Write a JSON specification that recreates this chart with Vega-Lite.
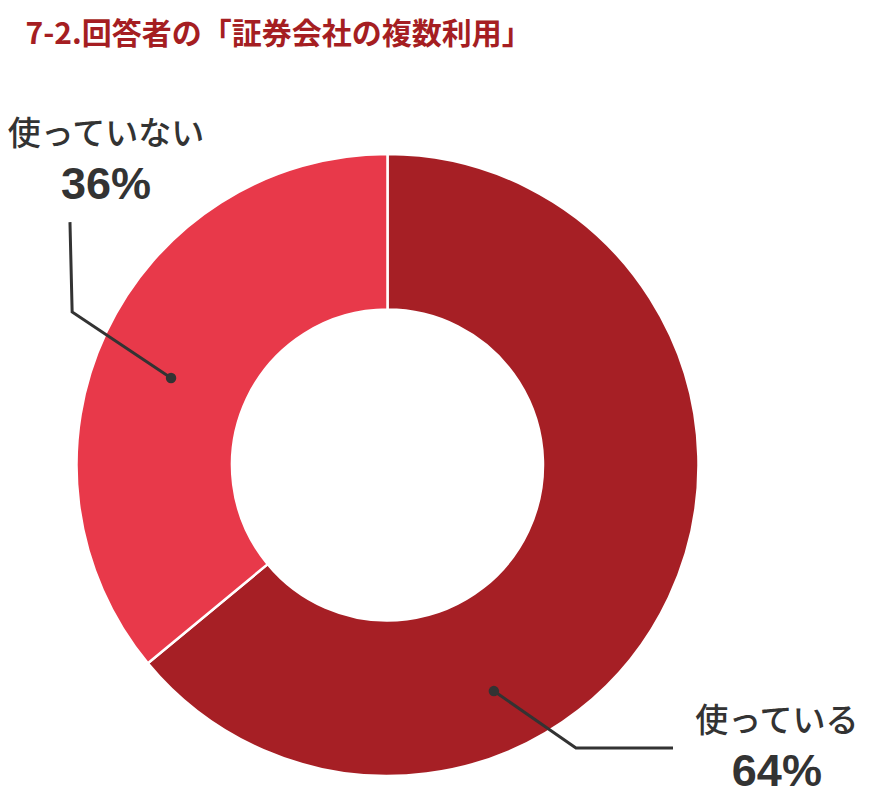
{
  "$schema": "https://vega.github.io/schema/vega-lite/v6.json",
  "width": 622,
  "height": 622,
  "autosize": {"type": "none"},
  "padding": {"left": 76.5, "top": 154, "right": 187.5, "bottom": 26},
  "background": "white",
  "config": {"view": {"stroke": null}},
  "title": {
    "text": "7-2.回答者の「証券会社の複数利用」",
    "anchor": "start",
    "frame": "group",
    "font": "Noto Sans CJK JP",
    "fontSize": 30,
    "fontWeight": "bold",
    "color": "#A51E22",
    "dx": -51,
    "dy": -65
  },
  "datasets": {
    "share": [
      {"answer": "使っている", "pct": 64, "rank": 1},
      {"answer": "使っていない", "pct": 36, "rank": 2}
    ],
    "leaders": [
      {"answer": "使っていない", "step": 1, "x": -1.021, "y": 0.781},
      {"answer": "使っていない", "step": 2, "x": -1.014, "y": 0.492},
      {"answer": "使っていない", "step": 3, "x": -0.696, "y": 0.28},
      {"answer": "使っている", "step": 1, "x": 0.342, "y": -0.727},
      {"answer": "使っている", "step": 2, "x": 0.606, "y": -0.91},
      {"answer": "使っている", "step": 3, "x": 0.918, "y": -0.91}
    ],
    "dots": [
      {"answer": "使っていない", "x": -0.696, "y": 0.28},
      {"answer": "使っている", "x": 0.342, "y": -0.727}
    ],
    "labels": [
      {"answer": "使っていない", "pct": "36%", "x": -0.905, "yName": 1.061, "yPct": 0.9},
      {"answer": "使っている", "pct": "64%", "x": 1.252, "yName": -0.826, "yPct": -0.987}
    ]
  },
  "layer": [
    {
      "data": {"name": "share"},
      "mark": {"type": "arc", "outerRadius": 311, "innerRadius": 155.5, "stroke": "white", "strokeWidth": 2.5},
      "encoding": {
        "theta": {"field": "pct", "type": "quantitative", "stack": true},
        "order": {"field": "rank", "type": "ordinal"},
        "color": {
          "field": "answer",
          "type": "nominal",
          "scale": {"domain": ["使っている", "使っていない"], "range": ["#A61F25", "#E8394A"]},
          "legend": null
        }
      }
    },
    {
      "data": {"name": "leaders"},
      "mark": {"type": "line", "color": "#333333", "strokeWidth": 3},
      "encoding": {
        "x": {"field": "x", "type": "quantitative", "scale": {"domain": [-1, 1]}, "axis": null},
        "y": {"field": "y", "type": "quantitative", "scale": {"domain": [-1, 1]}, "axis": null},
        "detail": {"field": "answer"},
        "order": {"field": "step"}
      }
    },
    {
      "data": {"name": "dots"},
      "mark": {"type": "circle", "color": "#333333", "opacity": 1, "size": 110},
      "encoding": {
        "x": {"field": "x", "type": "quantitative", "scale": {"domain": [-1, 1]}, "axis": null},
        "y": {"field": "y", "type": "quantitative", "scale": {"domain": [-1, 1]}, "axis": null}
      }
    },
    {
      "data": {"name": "labels"},
      "mark": {"type": "text", "font": "Noto Sans CJK JP", "fontSize": 33, "fontWeight": 500, "color": "#333333", "align": "center", "baseline": "middle"},
      "encoding": {
        "x": {"field": "x", "type": "quantitative", "scale": {"domain": [-1, 1]}, "axis": null},
        "y": {"field": "yName", "type": "quantitative", "scale": {"domain": [-1, 1]}, "axis": null},
        "text": {"field": "answer"}
      }
    },
    {
      "data": {"name": "labels"},
      "mark": {"type": "text", "font": "Liberation Sans", "fontSize": 45, "fontWeight": "bold", "color": "#333333", "align": "center", "baseline": "middle"},
      "encoding": {
        "x": {"field": "x", "type": "quantitative", "scale": {"domain": [-1, 1]}, "axis": null},
        "y": {"field": "yPct", "type": "quantitative", "scale": {"domain": [-1, 1]}, "axis": null},
        "text": {"field": "pct"}
      }
    }
  ]
}
